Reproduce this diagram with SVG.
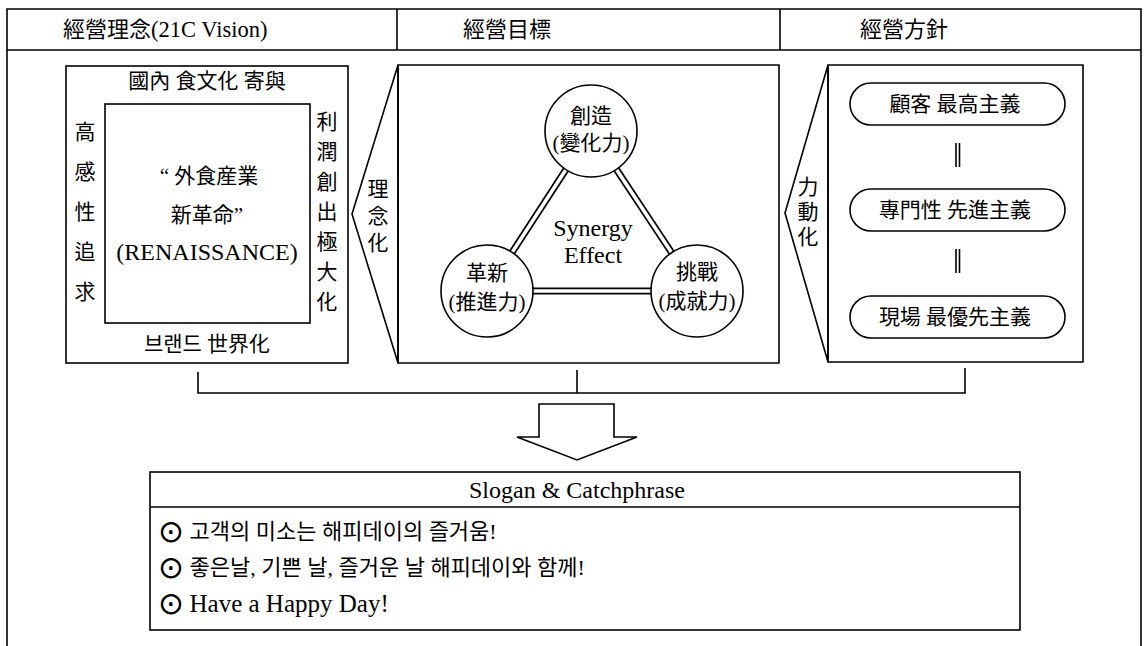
<svg xmlns="http://www.w3.org/2000/svg" width="1146" height="646" viewBox="0 0 1146 646">
<style>
.ln{fill:none;stroke:#000;stroke-width:1.6}
.box{fill:#fff;stroke:#000;stroke-width:1.6}
.t{font-family:"Liberation Serif","Noto Sans CJK KR",serif;font-size:21px;fill:#000;text-anchor:middle;dominant-baseline:central}
.tl{font-family:"Liberation Serif","Noto Sans CJK KR",serif;font-size:22px;fill:#000;dominant-baseline:central}
.lat{font-family:"Liberation Serif",serif;font-size:24px}
.bul{font-family:"DejaVu Sans",sans-serif;font-size:31px}
.dbo{fill:none;stroke:#000;stroke-width:7}
.dbi{fill:none;stroke:#fff;stroke-width:3.6}
</style>
<rect width="1146" height="646" fill="#fff"/>

<g id="frame">
<path class="ln" d="M7,646 V9 H1141 V646 M7,50 H1141 M397,9 V50 M780,9 V50"/>
<text class="tl" x="63" y="29">經營理念<tspan class="lat" style="font-size:22.5px">(21C Vision)</tspan></text>
<text class="tl" x="463" y="29">經營目標</text>
<text class="tl" x="860" y="29">經營方針</text>
</g>

<g id="connectors">
<path class="ln" d="M198,372 V393 H965 V368 M577,370 V393"/>
<path class="dbo" d="M591,131 L487,291 M591,131 L697,291 M487,291 H697"/>
<path class="dbi" d="M591,131 L487,291 M591,131 L697,291 M487,291 H697"/>
</g>

<g id="vision">
<rect class="box" x="66" y="66" width="282" height="297"/>
<rect class="box" x="105" y="104" width="205" height="219"/>
<text class="t" x="207" y="81">國內 食文化 寄與</text>
<text class="t" x="207" y="344">브랜드 世界化</text>
<text class="t" x="85"><tspan x="85" y="132">高</tspan><tspan x="85" y="172">感</tspan><tspan x="85" y="212">性</tspan><tspan x="85" y="252">追</tspan><tspan x="85" y="292">求</tspan></text>
<text class="t" x="327"><tspan x="327" y="122">利</tspan><tspan x="327" y="152">潤</tspan><tspan x="327" y="182">創</tspan><tspan x="327" y="212">出</tspan><tspan x="327" y="242">極</tspan><tspan x="327" y="272">大</tspan><tspan x="327" y="302">化</tspan></text>
<text class="t" x="209" y="176">“ 外食産業</text>
<text class="t" x="207" y="215">新革命”</text>
<text class="t lat" x="207" y="252">(RENAISSANCE)</text>
</g>

<g id="chevron-idea">
<polygon class="box" points="398,65 352,214 398,363"/>
<text class="t"><tspan x="378" y="189">理</tspan><tspan x="378" y="216">念</tspan><tspan x="378" y="243">化</tspan></text>
</g>

<g id="goals">
<path class="ln" d="M398,65 H779 V363 H398 Z"/>
<text class="t lat" x="593" y="228">Synergy</text>
<text class="t lat" x="593" y="255">Effect</text>
</g>

<g id="node-create">
<circle class="box" cx="591" cy="131" r="46"/>
<text class="t" x="591" y="116">創造</text>
<text class="t" x="591" y="143">(變化力)</text>
</g>
<g id="node-innovate">
<circle class="box" cx="487" cy="291" r="46"/>
<text class="t" x="487" y="273">革新</text>
<text class="t" x="487" y="302">(推進力)</text>
</g>
<g id="node-challenge">
<circle class="box" cx="697" cy="291" r="46"/>
<text class="t" x="697" y="272">挑戰</text>
<text class="t" x="697" y="301">(成就力)</text>
</g>

<g id="chevron-action">
<polygon class="box" points="828,65 785,213 828,362"/>
<text class="t"><tspan x="808" y="187">力</tspan><tspan x="808" y="212">動</tspan><tspan x="808" y="237">化</tspan></text>
</g>

<g id="policy">
<path class="ln" d="M828,65 H1083 V362 H828 Z"/>
<path class="ln" d="M956,143 V167 M959.5,143 V167 M956,249 V273 M959.5,249 V273"/>
</g>
<g id="pill-customer">
<rect class="box" x="850" y="83" width="215" height="42" rx="21"/>
<text class="t" x="955" y="104">顧客 最高主義</text>
</g>
<g id="pill-expert">
<rect class="box" x="850" y="189" width="215" height="42" rx="21"/>
<text class="t" x="955" y="210">專門性 先進主義</text>
</g>
<g id="pill-field">
<rect class="box" x="850" y="296" width="215" height="42" rx="21"/>
<text class="t" x="955" y="317">現場 最優先主義</text>
</g>

<g id="arrow">
<polygon class="box" points="539,404 614,404 614,437 637,437 577,460 517,437 539,437"/>
</g>

<g id="slogan">
<rect class="box" x="150" y="472" width="870" height="158"/>
<path class="ln" d="M150,507 H1020"/>
<text class="t lat" x="577" y="490">Slogan &amp; Catchphrase</text>
<text class="tl" x="158" y="531"><tspan class="bul">⊙</tspan> 고객의 미소는 해피데이의 즐거움!</text>
<text class="tl" x="158" y="567"><tspan class="bul">⊙</tspan> 좋은날, 기쁜 날, 즐거운 날 해피데이와 함께!</text>
<text class="tl" x="158" y="603"><tspan class="bul">⊙</tspan> <tspan class="lat" style="font-size:25px">Have a Happy Day!</tspan></text>
</g>
</svg>
